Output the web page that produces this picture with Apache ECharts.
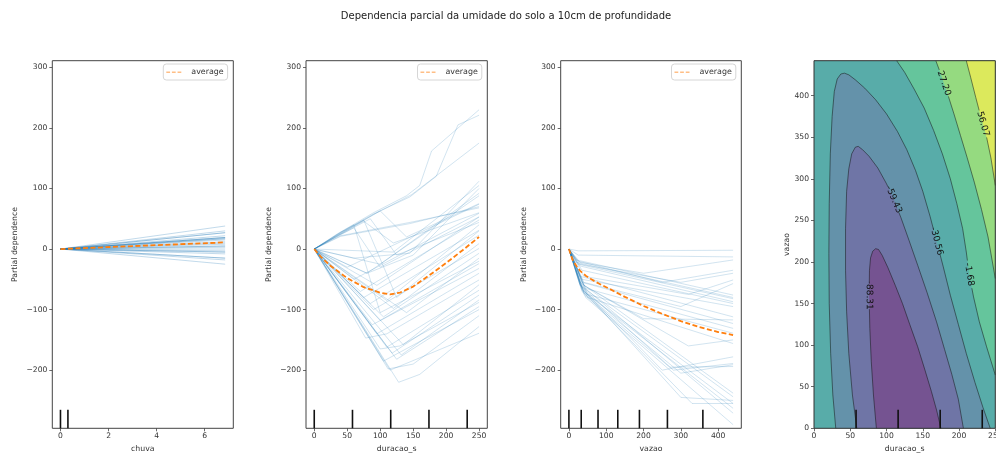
<!DOCTYPE html>
<html><head><meta charset="utf-8">
<script src="https://cdn.jsdelivr.net/npm/echarts@6/dist/echarts.min.js"></script>
<style>html,body{margin:0;padding:0;background:#fff}#c{width:996px;height:455px}</style>
</head><body><div id="c"></div>
<script>
// ---------------- data ----------------
const titleText = 'Dependencia parcial da umidade do solo a 10cm de profundidade';
const xNames = ['chuva', 'duracao_s', 'vazao', 'duracao_s'];
const yName = 'Partial dependence';
const y4Name = 'vazao';
const avgName = 'average';

const yTicks = [-200, -100, 0, 100, 200, 300];
const x1Ticks = [0, 2, 4, 6];
const x2Ticks = [0, 50, 100, 150, 200, 250];
const x3Ticks = [0, 100, 200, 300, 400];
const x4Ticks = [0, 50, 100, 150, 200, 250];
const y4Ticks = [0, 50, 100, 150, 200, 250, 300, 350, 400];

const yRange = [-296, 311];
const x1Range = [-0.34, 7.19];
const x2Range = [-12.5, 262.5];
const x3Range = [-22, 462];
const x4Range = [0, 250];
const y4Range = [0, 442];

// chuva: ICE lines are straight from 0 to the last grid value
const chuvaMax = 6.85;
const chuvaEnds = [38, 30, 27, 27, 22, 19, 19, 19, 17, 17, 15, 12, 10, 8, 5, 5, 3, 0, -3, -5, -5, -8, -15, -15, -18, -25];
const chuvaAvg = [[0, 0], [6.85, 11]];
const chuvaDeciles = [0, 0.31];

// duracao_s ICE lines
const duracaoLines = [
  [[0,0],[40,28],[90,60],[140,88],[160,105],[178,162],[250,230]],
  [[0,0],[40,27],[90,58],[145,86],[185,120],[218,205],[250,221]],
  [[0,0],[40,26],[90,57],[148,90],[250,175]],
  [[0,0],[40,25],[100,63],[140,20],[250,75]],
  [[0,0],[35,22],[75,46],[120,10],[250,60]],
  [[0,0],[40,24],[85,50],[125,-10],[250,44]],
  [[0,0],[40,22],[150,45],[250,68]],
  [[0,0],[40,21],[145,42],[250,70]],
  [[0,0],[30,18],[60,35],[100,-30],[250,53]],
  [[0,0],[40,27],[75,48],[125,-80],[250,30]],
  [[0,0],[35,25],[60,40],[100,-105],[250,-20]],
  [[0,0],[60,-15],[145,-7],[250,112]],
  [[0,0],[120,-5],[250,105]],
  [[0,0],[80,-40],[150,-10],[250,100]],
  [[0,0],[100,-25],[250,92]],
  [[0,0],[50,-30],[250,74]],
  [[0,0],[80,-40],[250,88]],
  [[0,0],[128,-220],[160,-207],[250,-128]],
  [[0,0],[115,-200],[250,-139]],
  [[0,0],[112,-198],[150,-190],[250,-110]],
  [[0,0],[105,-185],[250,-100]],
  [[0,0],[125,-182],[250,-95]],
  [[0,0],[132,-175],[250,-84]],
  [[0,0],[118,-172],[250,-76]],
  [[0,0],[100,-165],[130,-160],[250,-88]],
  [[0,0],[110,-162],[250,-68]],
  [[0,0],[135,-158],[250,-59]],
  [[0,0],[78,-147],[110,-140],[250,-51]],
  [[0,0],[95,-140],[250,-40]],
  [[0,0],[88,-125],[250,-32]],
  [[0,0],[100,-118],[250,-24]],
  [[0,0],[140,-105],[250,-15]],
  [[0,0],[105,-112],[250,-7]],
  [[0,0],[90,-100],[250,1]],
  [[0,0],[120,-98],[250,9]],
  [[0,0],[85,-90],[250,23]],
  [[0,0],[75,-80],[250,31]],
  [[0,0],[110,-85],[250,40]],
  [[0,0],[70,-70],[250,48]],
  [[0,0],[95,-60],[250,53]],
  [[0,0],[60,-50],[250,59]]
];
const duracaoAvg = [[0,0],[10,-13],[25,-28],[50,-48],[75,-63],[100,-72],[115,-75],[130,-72],[150,-62],[175,-43],[200,-23],[225,-2],[250,20]];
const duracaoDeciles = [0, 58, 116, 174, 232];

// vazao ICE lines
const vazaoLines = [
  [[0,0],[25,-3],[440,-2]],
  [[0,0],[25,-10],[440,-13]],
  [[0,0],[30,-22],[200,-40],[440,-18]],
  [[0,0],[25,-20],[250,-55],[440,-35]],
  [[0,0],[30,-25],[300,-55],[440,-40]],
  [[0,0],[20,-22],[440,-80]],
  [[0,0],[25,-25],[440,-82]],
  [[0,0],[30,-28],[440,-87]],
  [[0,0],[20,-18],[440,-76]],
  [[0,0],[35,-35],[440,-90]],
  [[0,0],[40,-45],[320,-75],[440,-51]],
  [[0,0],[35,-50],[440,-95]],
  [[0,0],[40,-55],[300,-95],[440,-57]],
  [[0,0],[30,-45],[440,-112]],
  [[0,0],[40,-60],[200,-115],[440,-117]],
  [[0,0],[35,-55],[440,-123]],
  [[0,0],[45,-65],[440,-131]],
  [[0,0],[50,-75],[440,-139]],
  [[0,0],[40,-60],[320,-160],[440,-150]],
  [[0,0],[50,-80],[440,-156]],
  [[0,0],[35,-65],[250,-200],[440,-178]],
  [[0,0],[30,-60],[280,-200],[440,-189]],
  [[0,0],[35,-70],[300,-205],[440,-191]],
  [[0,0],[40,-75],[270,-195],[440,-194]],
  [[0,0],[30,-55],[440,-238]],
  [[0,0],[35,-65],[300,-245],[440,-250]],
  [[0,0],[30,-60],[440,-244]],
  [[0,0],[40,-70],[440,-255]],
  [[0,0],[35,-68],[440,-263]],
  [[0,0],[30,-58],[440,-271]],
  [[0,0],[45,-80],[440,-290]],
  [[0,0],[40,-72],[330,-255],[440,-255]]
];
const vazaoAvg = [[0,0],[10,-18],[20,-28],[30,-36],[45,-44],[60,-50],[80,-57],[100,-63],[150,-79],[200,-94],[250,-107],[300,-119],[350,-129],[400,-137],[440,-142]];
const vazaoDeciles = [0, 33, 78, 131, 189, 264, 359];

// 2-way contour (duracao_s x vazao): levels and traced contour lines
const contourLevels = [-117.18, -88.31, -59.43, -30.56, -1.68, 27.20, 56.07, 84.95];
const cM88 = [[86,0],[82,40],[79,80],[77,120],[76,160],[76.5,190],[78,205],[81,213],[85,216],[89,215],[94,208],[102,193],[112,172],[122,150],[132,125],[143,98],[153,70],[162,44],[169,22],[175,0]];
const cM59 = [[59,0],[53,40],[48,90],[45,140],[43.5,190],[43.5,240],[45,285],[48,312],[52,330],[57,338],[61,339],[67,335],[76,327],[88,313],[100,294],[110,275],[120,253],[131,226],[143,196],[156,163],[169,128],[180,95],[190,65],[199,35],[206,0]];
const cM30 = [[30,0],[26,40],[23,90],[21,150],[20.5,210],[21,270],[22.5,330],[25,375],[28,405],[32,420],[37,426],[42,427],[48,425],[57,419],[70,409],[85,395],[100,378],[115,357],[128,335],[140,310],[150,285],[160,255],[169,225],[178,195],[188,160],[199,125],[210,90],[222,55],[233,25],[243,0]];
const cM1 = [[114,442],[125,428],[138,408],[152,385],[165,358],[177,330],[188,300],[197,270],[205,240],[210,212],[214,185],[220,158],[228,128],[238,98],[250,64]];
const cP27 = [[168,442],[174,428],[179,415],[185,400],[193,378],[202,352],[211,326],[221,296],[231,263],[240,230],[250,180]];
const cP56 = [[210,442],[216,422],[223,398],[229,378],[233,366],[238,350],[244,325],[250,292]];
const contourLabelAt = [[76,160],[110,275],[169,225],[214,185],[179,415],[233,366]];
const duracaoDeciles2 = [58, 116, 174, 232];

// ---------------- styles ----------------
const FONT = 'DejaVu Sans';
const TXT = '#333';
const bandColors = ['#755391', '#6f75a6', '#6492aa', '#58aca9', '#65c59c', '#95da80', '#dce95c'];
const dashIcon = 'path://M0,0H5V1H0Z M7.5,0H12.5V1H7.5Z M15,0H20V1H15Z';
const iceOpacity = [0.34, 0.25, 0.25];

function fmt(v) { return String(v).replace('-', '\u2212'); }

const grids = [
  {left: 52.3, top: 60.7, width: 181, height: 367.6},
  {left: 306, top: 60.7, width: 181.3, height: 367.6},
  {left: 560.7, top: 60.7, width: 180.6, height: 367.6},
  {left: 814, top: 60.7, width: 181.3, height: 367.6}
].map((g, i) => Object.assign(g, {show: i < 3, borderColor: '#444', borderWidth: 1, backgroundColor: 'transparent', containLabel: false, outerBoundsMode: 'none'}));

function axisCommon(ticks) {
  return {
    axisLine: {show: false, onZero: false},
    axisTick: {show: true, length: 3, lineStyle: {color: '#444', width: 0.8}, customValues: ticks},
    axisLabel: {customValues: ticks, fontSize: 7.6, fontFamily: FONT, color: TXT, formatter: fmt},
    splitLine: {show: false},
    nameTextStyle: {fontSize: 7.8, fontFamily: FONT, color: TXT},
    z: 10
  };
}
function xAx(i, range, ticks) {
  const a = axisCommon(ticks);
  a.axisLabel.margin = 4;
  return Object.assign(a, {type: 'value', gridIndex: i, position: 'bottom', min: range[0], max: range[1], name: xNames[i], nameLocation: 'middle', nameGap: 17});
}
function yAx(i, range, ticks, name) {
  const a = axisCommon(ticks);
  a.axisLabel.margin = 5;
  return Object.assign(a, {type: 'value', gridIndex: i, position: 'left', min: range[0], max: range[1], name: name, nameLocation: 'middle', nameGap: i === 3 ? 22 : 33});
}

const xAxes = [xAx(0, x1Range, x1Ticks), xAx(1, x2Range, x2Ticks), xAx(2, x3Range, x3Ticks), xAx(3, x4Range, x4Ticks)];
const yAxes = [yAx(0, yRange, yTicks, yName), yAx(1, yRange, yTicks, yName), yAx(2, yRange, yTicks, yName), yAx(3, y4Range, y4Ticks, y4Name)];

function iceSeries(lines, i) {
  return {type: 'lines', coordinateSystem: 'cartesian2d', xAxisIndex: i, yAxisIndex: i, polyline: true, silent: true,
    lineStyle: {color: '#1f77b4', width: 0.8, opacity: iceOpacity[i]}, data: lines.map(c => ({coords: c})), z: 2};
}
function avgSeries(data, i) {
  return {type: 'line', name: avgName, xAxisIndex: i, yAxisIndex: i, data: data, symbol: 'none', silent: true,
    lineStyle: {color: '#ff7f0e', width: 1.8, type: [5, 2.5]}, itemStyle: {color: '#ff7f0e'}, z: 5};
}
function decileSeries(vals, i) {
  return {type: 'custom', xAxisIndex: i, yAxisIndex: i, silent: true, z: 12,
    data: vals.map(v => [v, 0]), encode: {x: 0, y: 1},
    renderItem: function (params, api) {
      const cs = params.coordSys;
      const x = api.coord([api.value(0), api.value(1)])[0];
      const yb = cs.y + cs.height;
      return {type: 'line', shape: {x1: x, y1: yb, x2: x, y2: yb - 18.5}, style: {stroke: '#111', lineWidth: 1.6}};
    }};
}

function gapPieces(pts, c, R) {
  const pieces = []; let cur = null;
  for (let i = 0; i < pts.length - 1; i++) {
    const p = pts[i], q = pts[i + 1];
    const dx = q[0] - p[0], dy = q[1] - p[1];
    const fx = p[0] - c[0], fy = p[1] - c[1];
    const a = dx * dx + dy * dy, b = 2 * (fx * dx + fy * dy), cc = fx * fx + fy * fy - R * R;
    const disc = b * b - 4 * a * cc;
    let ints;
    if (disc <= 0 || a === 0) ints = [[0, 1]];
    else {
      const s = Math.sqrt(disc), t1 = (-b - s) / (2 * a), t2 = (-b + s) / (2 * a);
      if (t2 <= 0 || t1 >= 1) ints = [[0, 1]];
      else { ints = []; if (t1 > 0) ints.push([0, t1]); if (t2 < 1) ints.push([t2, 1]); }
    }
    const L = t => [p[0] + dx * t, p[1] + dy * t];
    for (const [ta, tb] of ints) {
      if (cur && ta === 0) cur.push(L(tb));
      else { if (cur && cur.length > 1) pieces.push(cur); cur = [L(ta), L(tb)]; }
    }
    if (!ints.length || ints[ints.length - 1][1] !== 1) { if (cur && cur.length > 1) pieces.push(cur); cur = null; }
  }
  if (cur && cur.length > 1) pieces.push(cur);
  return pieces;
}

const contourSet = [cM88, cM59, cM30, cM1, cP27, cP56];
const labelLevels = [1, 2, 3, 4, 5, 6];

const contourSeries = {
  type: 'custom', xAxisIndex: 3, yAxisIndex: 3, silent: true, z: 1, data: [[x4Range[0], y4Range[0]]], encode: {x: 0, y: 1},
  renderItem: function (params, api) {
    const cs = params.coordSys;
    const px = pts => pts.map(p => api.coord(p));
    const corner = [x4Range[1], y4Range[1]];
    const ch = [];
    ch.push({type: 'rect', shape: {x: cs.x, y: cs.y, width: cs.width, height: cs.height}, style: {fill: bandColors[3]}});
    ch.push({type: 'polygon', shape: {points: px(cM30)}, style: {fill: bandColors[2]}});
    ch.push({type: 'polygon', shape: {points: px(cM59)}, style: {fill: bandColors[1]}});
    ch.push({type: 'polygon', shape: {points: px(cM88)}, style: {fill: bandColors[0]}});
    ch.push({type: 'polygon', shape: {points: px(cM1.concat([corner]))}, style: {fill: bandColors[4]}});
    ch.push({type: 'polygon', shape: {points: px(cP27.concat([corner]))}, style: {fill: bandColors[5]}});
    ch.push({type: 'polygon', shape: {points: px(cP56.concat([corner]))}, style: {fill: bandColors[6]}});
    contourSet.forEach((pts, k) => {
      const pp = px(pts);
      const lc = api.coord(contourLabelAt[k]);
      gapPieces(pp, lc, 14).forEach(piece => {
        ch.push({type: 'polyline', shape: {points: piece}, style: {stroke: '#111', lineWidth: 0.6, fill: null, opacity: 0.85}});
      });
      let best = 0, bd = 1e9;
      pp.forEach((p, j) => { const d = (p[0] - lc[0]) ** 2 + (p[1] - lc[1]) ** 2; if (d < bd) { bd = d; best = j; } });
      const a = pp[Math.max(0, best - 1)], b = pp[Math.min(pp.length - 1, best + 1)];
      let ang = Math.atan2(-(b[1] - a[1]), b[0] - a[0]) * 180 / Math.PI;
      ang = (((ang + 90) % 180) + 180) % 180 - 90;
      ch.push({type: 'text', x: lc[0], y: lc[1], rotation: ang * Math.PI / 180,
        style: {text: contourLevels[labelLevels[k]].toFixed(2), fill: '#111', font: '9px "DejaVu Sans"', align: 'center', verticalAlign: 'middle', textAlign: 'center', textVerticalAlign: 'middle'}});
    });
    ch.push({type: 'rect', shape: {x: cs.x, y: cs.y, width: cs.width, height: cs.height}, style: {fill: null, stroke: '#333', lineWidth: 1}});
    return {type: 'group', children: ch};
  }
};

function legendAt(left) {
  return {data: [{name: avgName, icon: dashIcon}], left: left, top: 64, orient: 'vertical', padding: [4, 4, 4, 3], itemWidth: 15, itemHeight: 2,
    backgroundColor: 'rgba(255,255,255,0.8)', borderColor: '#d6d6d6', borderWidth: 1, borderRadius: 3,
    textStyle: {fontSize: 7.9, fontFamily: FONT, color: TXT, padding: [0, 0, 0, 5]}, selectedMode: false};
}

const chart = echarts.init(document.getElementById('c'), null, {renderer: 'canvas'});
chart.setOption({
  animation: false,
  backgroundColor: '#fff',
  graphic: [{type: 'text', x: 506, y: 11, style: {text: titleText, font: '10px "DejaVu Sans"', fill: '#222', textAlign: 'center', align: 'center'}}],
  grid: grids,
  xAxis: xAxes,
  yAxis: yAxes,
  legend: [legendAt(163.3), legendAt(417.5), legendAt(671.5)],
  series: [
    iceSeries(chuvaEnds.map(e => [[0, 0], [chuvaMax, e]]), 0),
    iceSeries(duracaoLines, 1),
    iceSeries(vazaoLines, 2),
    avgSeries(chuvaAvg, 0),
    avgSeries(duracaoAvg, 1),
    avgSeries(vazaoAvg, 2),
    decileSeries(chuvaDeciles, 0),
    decileSeries(duracaoDeciles, 1),
    decileSeries(vazaoDeciles, 2),
    contourSeries,
    decileSeries(duracaoDeciles2, 3)
  ]
});
</script></body></html>
